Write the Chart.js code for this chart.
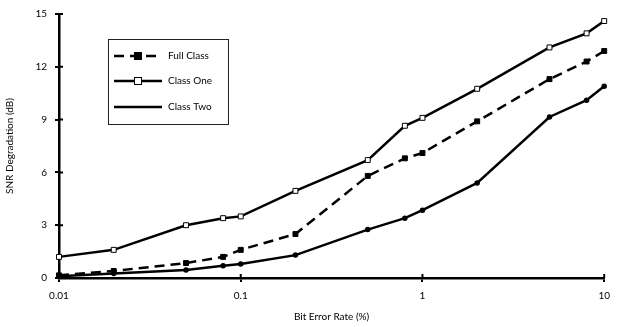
<!DOCTYPE html>
<html>
<head>
<meta charset="utf-8">
<script src="https://cdn.jsdelivr.net/npm/chart.js@4"></script>
<style>
  html, body { margin: 0; padding: 0; background: #fff; }
  #wrap { width: 618px; height: 327px; }
</style>
</head>
<body>
<div id="wrap"><canvas id="snrChart" width="618" height="327"></canvas></div>
<script>
// bit error rate (%) and SNR degradation (dB)
const errorRates = [0.01, 0.02, 0.05, 0.08, 0.1, 0.2, 0.5, 0.8, 1, 2, 5, 8, 10];
const fullClass  = [0.15, 0.4, 0.85, 1.2, 1.6, 2.5, 5.8, 6.8, 7.1, 8.9, 11.3, 12.3, 12.9];
const classOne   = [1.2, 1.6, 3.0, 3.4, 3.5, 4.95, 6.7, 8.65, 9.1, 10.75, 13.1, 13.9, 14.6];
const classTwo   = [0.1, 0.25, 0.45, 0.7, 0.8, 1.3, 2.75, 3.4, 3.85, 5.4, 9.15, 10.1, 10.9];
const xTicks = [0.01, 0.1, 1, 10];
const yTicks = [0, 3, 6, 9, 12, 15];

Chart.defaults.font.family = 'Lato, "DejaVu Sans", sans-serif';
Chart.defaults.font.size = 10;
Chart.defaults.color = '#000';

function toPoints(values) {
    return errorRates.map(function(x, i) { return { x: x, y: values[i] }; });
}

// small legend box drawn inside the plot, like the original figure
const boxLegend = {
    id: 'boxLegend',
    afterDraw: function(chart) {
        const c = chart.ctx;
        c.save();
        c.strokeStyle = '#222';
        c.lineWidth = 1;
        c.strokeRect(108.5, 39.5, 120, 85);
        const rows = [56, 81, 107];
        chart.data.datasets.forEach(function(ds, i) {
            const y = rows[i];
            c.strokeStyle = ds.borderColor;
            c.lineWidth = ds.borderWidth;
            c.setLineDash(ds.borderDash || []);
            c.beginPath();
            c.moveTo(114, y);
            c.lineTo(162, y);
            c.stroke();
            c.setLineDash([]);
            if (ds.pointStyle === 'rect') {
                c.fillStyle = ds.pointBackgroundColor;
                c.lineWidth = 1;
                c.fillRect(134.5, y - 3.5, 7, 7);
                c.strokeRect(134.5, y - 3.5, 7, 7);
            }
            c.fillStyle = '#000';
            c.font = '10px ' + Chart.defaults.font.family;
            c.textBaseline = 'middle';
            c.fillText(ds.label, 168, y);
        });
        // inner half of the tick marks that cross the axes
        const xs = chart.scales.x, ys = chart.scales.y;
        c.strokeStyle = '#000';
        c.lineWidth = 2;
        c.beginPath();
        xs.ticks.forEach(function(t) {
            const px = xs.getPixelForValue(t.value);
            c.moveTo(px, ys.bottom);
            c.lineTo(px, ys.bottom - 4);
        });
        ys.ticks.forEach(function(t) {
            const py = ys.getPixelForValue(t.value);
            c.moveTo(xs.left, py);
            c.lineTo(xs.left + 4, py);
        });
        c.stroke();
        c.restore();
    }
};

const ctx = document.getElementById('snrChart').getContext('2d');
const snrChart = new Chart(ctx, {
    type: 'line',
    data: {
        datasets: [{
            label: 'Full Class',
            data: toPoints(fullClass),
            borderColor: '#000',
            borderWidth: 2.5,
            borderDash: [10, 6],
            pointStyle: 'rect',
            pointRadius: 3.5,
            pointBackgroundColor: '#000',
            pointBorderColor: '#000',
            pointBorderWidth: 1,
            clip: false
        }, {
            label: 'Class One',
            data: toPoints(classOne),
            borderColor: '#000',
            borderWidth: 2.5,
            pointStyle: 'rect',
            pointRadius: 3.5,
            pointBackgroundColor: '#fff',
            pointBorderColor: '#000',
            pointBorderWidth: 1,
            clip: false
        }, {
            label: 'Class Two',
            data: toPoints(classTwo),
            borderColor: '#000',
            borderWidth: 2.5,
            pointStyle: 'circle',
            pointRadius: 1.5,
            pointBackgroundColor: '#000',
            pointBorderColor: '#000',
            clip: false
        }]
    },
    options: {
        responsive: false,
        animation: false,
        layout: { padding: { left: 0, right: 6, top: 14, bottom: 0 } },
        plugins: {
            legend: { display: false },
            tooltip: { enabled: false }
        },
        scales: {
            x: {
                type: 'logarithmic',
                min: 0.01,
                max: 10,
                afterBuildTicks: function(axis) {
                    axis.ticks = xTicks.map(function(v) { return { value: v }; });
                },
                afterFit: function(axis) { axis.height = 49; },
                ticks: {
                    padding: 8,
                    maxRotation: 0,
                    callback: function(value) { return String(value); }
                },
                grid: { drawOnChartArea: false, tickLength: 4, color: '#000', lineWidth: 2 },
                border: { color: '#000', width: 2.5 },
                title: { display: true, text: 'Bit Error Rate (%)', padding: { top: 4 } }
            },
            y: {
                min: 0,
                max: 15,
                afterBuildTicks: function(axis) {
                    axis.ticks = yTicks.map(function(v) { return { value: v }; });
                },
                afterFit: function(axis) { axis.width = 59; },
                ticks: { padding: 8 },
                grid: { drawOnChartArea: false, tickLength: 4, color: '#000', lineWidth: 2 },
                border: { color: '#000', width: 2.5 },
                title: { display: true, text: 'SNR Degradation (dB)', padding: { bottom: 0 } }
            }
        }
    },
    plugins: [boxLegend]
});
</script>
</body>
</html>
